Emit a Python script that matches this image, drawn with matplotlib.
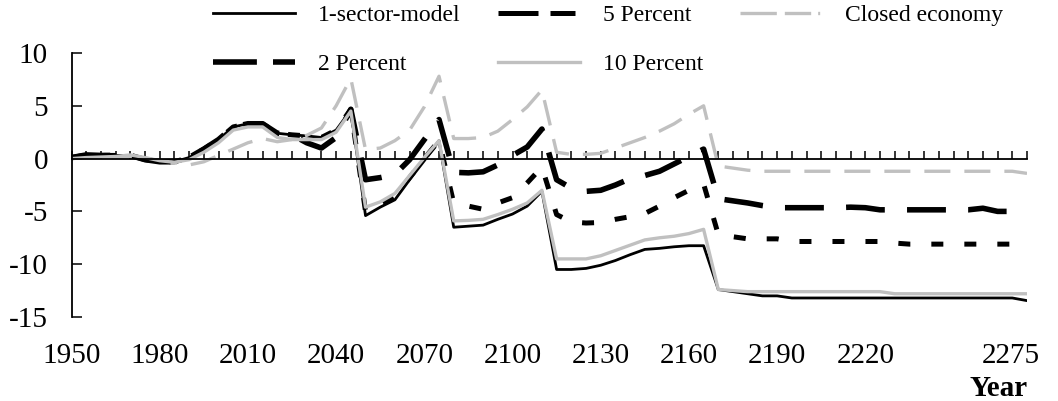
import numpy as np
import matplotlib
matplotlib.use("Agg")
from matplotlib import pyplot as plt
from matplotlib.lines import Line2D
from matplotlib.transforms import ScaledTranslation

plt.rcParams['font.family'] = ['Liberation Serif', 'DejaVu Serif']

years = np.arange(1950, 2276, 5)
label_years = [1950, 1980, 2010, 2040, 2070, 2100, 2130, 2160, 2190, 2220, 2275]

one_sector = [0.1, 0.35, 0.3, 0.3, 0.3, -0.1, -0.3, -0.3, 0.1, 0.9,
              1.8, 3.0, 3.3, 3.3, 2.4, 2.25, 2.15, 2.0, 2.7, 4.6,
              -5.4, -4.6, -3.9, -2.0, -0.2, 1.7, -6.5, -6.4, -6.3, -5.75,
              -5.25, -4.5, -3.1, -10.5, -10.5, -10.4, -10.1, -9.65, -9.1, -8.6,
              -8.5, -8.35, -8.25, -8.25, -12.4, -12.6, -12.8, -13.0, -13.0, -13.2,
              -13.2, -13.2, -13.2, -13.2, -13.2, -13.2, -13.2, -13.2, -13.2, -13.2,
              -13.2, -13.2, -13.2, -13.2, -13.2, -13.45]

pct2 = [0.1, 0.35, 0.3, 0.3, 0.3, -0.1, -0.3, -0.3, 0.1, 0.9,
        1.8, 3.0, 3.3, 3.3, 2.4, 2.25, 1.5, 1.0, 2.0, 4.67,
        -2.0, -1.8, -1.5, -0.1, 1.8, 3.7, -1.3, -1.35, -1.25, -0.6,
        0.3, 1.1, 2.8, -2.0, -2.8, -3.1, -3.0, -2.5, -1.9, -1.6,
        -1.2, -0.5, 0.2, 0.9, -3.8, -4.0, -4.2, -4.45, -4.65, -4.65,
        -4.65, -4.65, -4.65, -4.6, -4.65, -4.85, -4.85, -4.85, -4.85, -4.85,
        -4.85, -4.85, -4.7, -5.0, -5.0, -5.05]

pct5 = [0.1, 0.35, 0.3, 0.3, 0.3, -0.1, -0.3, -0.3, 0.1, 0.9,
        1.8, 3.0, 3.3, 3.3, 2.4, 2.25, 2.15, 2.0, 2.7, 4.67,
        -5.0, -4.35, -3.6, -1.8, 0.0, 1.7, -4.2, -4.5, -4.8, -4.2,
        -3.7, -2.3, -0.8, -5.3, -6.0, -6.1, -6.05, -5.75, -5.5, -5.2,
        -4.5, -3.7, -3.0, -2.4, -7.2, -7.4, -7.6, -7.6, -7.6, -7.85,
        -7.85, -7.85, -7.85, -7.85, -7.85, -7.85, -8.0, -8.1, -8.1, -8.1,
        -8.1, -8.1, -8.1, -8.1, -8.1, -8.4]

pct10 = [0.0, 0.1, 0.15, 0.2, 0.35, 0.1, -0.2, -0.35, -0.1, 0.6,
         1.5, 2.7, 3.0, 3.0, 2.0, 1.8, 1.8, 1.8, 2.5, 4.5,
         -4.6, -4.1, -3.3, -1.6, 0.1, 1.7, -5.9, -5.85, -5.75, -5.3,
         -4.8, -4.2, -3.0, -9.5, -9.5, -9.5, -9.2, -8.7, -8.2, -7.7,
         -7.5, -7.35, -7.1, -6.7, -12.4, -12.5, -12.6, -12.6, -12.6, -12.6,
         -12.6, -12.6, -12.6, -12.6, -12.6, -12.6, -12.8, -12.8, -12.8, -12.8,
         -12.8, -12.8, -12.8, -12.8, -12.8, -12.8]

closed = [0.0, 0.1, 0.1, 0.1, 0.2, 0.0, -0.2, -0.4, -0.6, -0.3,
          0.3, 0.9, 1.5, 1.9, 1.6, 1.8, 2.2, 2.9, 5.0, 7.6,
          0.85, 1.0, 1.7, 2.7, 4.9, 7.8, 1.9, 1.9, 2.0, 2.6,
          3.7, 4.9, 6.5, 0.6, 0.4, 0.4, 0.5, 1.0, 1.5, 2.0,
          2.6, 3.3, 4.2, 5.0, -0.7, -0.9, -1.1, -1.2, -1.2, -1.2,
          -1.2, -1.2, -1.2, -1.2, -1.2, -1.2, -1.2, -1.2, -1.2, -1.2,
          -1.2, -1.2, -1.2, -1.2, -1.2, -1.4]

grey = '#c0c0c0'

fig = plt.figure(figsize=(10.58, 4.01), dpi=100)
ax = fig.add_axes([0.0676, 0.2095, 0.9031, 0.6583])

ax.plot(years, one_sector, color='black', lw=2.0, label='1-sector-model')
ax.plot(years, pct5, color='black', lw=3.6, dashes=(2.4, 4.2), label='5 Percent')
ax.plot(years, closed, color=grey, lw=2.4, dashes=(7.8, 4.2), label='Closed economy')
ax.plot(years, pct2, color='black', lw=4.0, dashes=(7.0, 4.0), label='2 Percent')
ax.plot(years, pct10, color=grey, lw=2.4, label='10 Percent')

ax.set_xlim(1950, 2275)
ax.set_ylim(-15, 10)
ax.set_yticks([-15, -10, -5, 0, 5, 10])
ax.set_yticklabels(['-15', '-10', '-5', '0', '5', '10'])
ax.set_xticks(years)
ax.set_xticklabels([])

for s in ['top', 'right']:
    ax.spines[s].set_visible(False)
ax.spines['bottom'].set_position(('data', 0))
ax.spines['bottom'].set_linewidth(1.3)
ax.spines['left'].set_linewidth(1.3)
ax.tick_params(axis='x', direction='in', length=6, width=1.1)
ax.tick_params(axis='y', direction='in', length=7, width=1.1, labelsize=21, pad=17)

# year labels sit under the plot, not on the zero line
sec = ax.secondary_xaxis(0.0)
sec.set_xticks(label_years)
sec.set_xticklabels([str(y) for y in label_years])
sec.tick_params(length=0, labelsize=21, pad=19)
sec.spines['bottom'].set_visible(False)
last = sec.get_xticklabels()[-1]
last.set_transform(last.get_transform() + ScaledTranslation(-0.16, 0, fig.dpi_scale_trans))

fig.text(0.944, 1 - 388 / 401, 'Year', fontsize=21, fontweight='bold',
         ha='center', va='center')

h = {l.get_label(): l for l in ax.get_lines()}
order = ['1-sector-model', '2 Percent', '5 Percent', '10 Percent', 'Closed economy']
handles = [h[k] for k in order]
handles[1] = Line2D([], [], color='black', lw=4.0, dashes=(7.9, 2.9))
handles[2] = Line2D([], [], color='black', lw=3.6, dashes=(8, 2.4, 5, 1.6, 0.6, 3))
handles[4] = Line2D([], [], color=grey, lw=2.4, dashes=(10.9, 2.4, 7.9, 2.1, 0.6, 3))
fig.legend(handles, order, loc='upper left', bbox_to_anchor=(0.2013, 0.988),
           ncol=3, frameon=False, fontsize=17, handlelength=3.47,
           handletextpad=0.97, columnspacing=1.58, labelspacing=1.14,
           borderpad=0, borderaxespad=0)

fig.savefig('out.png', dpi=100)
